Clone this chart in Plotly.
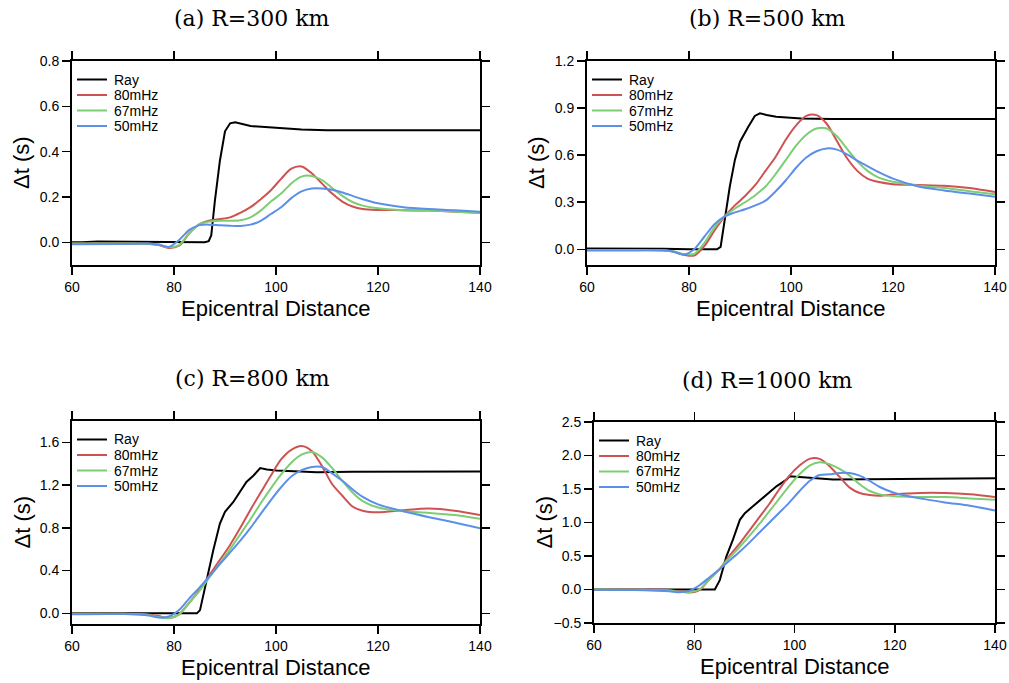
import plotly.graph_objects as go

# common distance grid for the finite-frequency curves
dist = [60, 70, 75, 77, 79, 81, 83, 85, 87, 89, 91, 93, 95, 97, 99, 101, 103,
        105, 107, 109, 111, 113, 115, 117, 120, 125, 130, 135, 140]

panel_titles = ["(a) R=300 km", "(b) R=500 km", "(c) R=800 km", "(d) R=1000 km"]
series_names = ["Ray", "80mHz", "67mHz", "50mHz"]

# (a) R=300 km
ray_a_x = [60, 62, 65, 70, 75, 80, 86, 86.8, 87.3, 88, 89, 90, 91, 92, 93, 95, 100, 105, 110, 120, 130, 140]
ray_a_y = [0, 0, 0.004, 0.003, 0, 0, 0, 0.005, 0.03, 0.18, 0.36, 0.49, 0.525, 0.53, 0.525, 0.513, 0.505,
           0.498, 0.495, 0.496, 0.496, 0.495]
f80_a = [-0.005, -0.005, -0.007, -0.012, -0.025, -0.015, 0.04, 0.08, 0.097, 0.103, 0.11, 0.13, 0.155, 0.19,
         0.23, 0.28, 0.325, 0.335, 0.305, 0.26, 0.215, 0.18, 0.158, 0.147, 0.143, 0.142, 0.14, 0.135, 0.13]
f67_a = [-0.005, -0.005, -0.006, -0.01, -0.022, -0.012, 0.04, 0.08, 0.092, 0.095, 0.095, 0.097, 0.11, 0.14,
         0.18, 0.215, 0.26, 0.29, 0.293, 0.275, 0.24, 0.205, 0.178, 0.162, 0.15, 0.142, 0.14, 0.135, 0.13]
f50_a = [-0.008, -0.007, -0.005, -0.01, -0.02, 0.01, 0.055, 0.076, 0.078, 0.075, 0.073, 0.072, 0.078, 0.095,
         0.125, 0.155, 0.195, 0.225, 0.238, 0.238, 0.232, 0.22, 0.205, 0.19, 0.172, 0.155, 0.147, 0.142, 0.135]

# (b) R=500 km
ray_b_x = [60, 65, 70, 75, 80, 85.5, 86.2, 87, 88, 89, 90, 91.6, 92.9, 93.9, 95.2, 97.1, 99.8, 102, 108, 120, 130, 140]
ray_b_y = [0.005, 0.005, 0.005, 0.003, 0, 0, 0.015, 0.2, 0.4, 0.57, 0.686, 0.78, 0.85, 0.867, 0.856, 0.845,
           0.839, 0.833, 0.83, 0.83, 0.83, 0.83]
f80_b = [-0.005, -0.005, -0.008, -0.015, -0.035, -0.04, 0.02, 0.12, 0.21, 0.28, 0.34, 0.41, 0.5, 0.59, 0.7,
         0.79, 0.85, 0.855, 0.8, 0.69, 0.58, 0.5, 0.45, 0.43, 0.415, 0.41, 0.405, 0.39, 0.365]
f67_b = [-0.005, -0.005, -0.007, -0.013, -0.03, -0.03, 0.04, 0.14, 0.21, 0.26, 0.3, 0.345, 0.4, 0.48, 0.57,
         0.66, 0.73, 0.77, 0.77, 0.72, 0.64, 0.56, 0.5, 0.46, 0.43, 0.405, 0.39, 0.37, 0.35]
f50_b = [-0.008, -0.007, -0.006, -0.015, -0.035, 0.0, 0.08, 0.16, 0.21, 0.235, 0.255, 0.28, 0.31, 0.37, 0.44,
         0.52, 0.585, 0.625, 0.643, 0.635, 0.605, 0.565, 0.53, 0.495, 0.45, 0.4, 0.375, 0.355, 0.335]

# (c) R=800 km
ray_c_x = [60, 70, 80, 84.5, 85.1, 86.4, 87.7, 89, 90, 91.6, 94.2, 95.6, 96.9, 98.2, 100.1, 104.7, 108, 115, 125, 140]
ray_c_y = [0, 0, 0, 0, 0.03, 0.32, 0.59, 0.84, 0.95, 1.04, 1.23, 1.29, 1.36, 1.346, 1.337, 1.328, 1.32,
           1.325, 1.328, 1.328]
f80_c = [-0.005, -0.005, -0.01, -0.025, -0.045, -0.01, 0.1, 0.22, 0.36, 0.5, 0.64, 0.8, 0.97, 1.13, 1.29,
         1.44, 1.53, 1.565, 1.52, 1.38, 1.21, 1.1, 1.0, 0.96, 0.945, 0.965, 0.98, 0.96, 0.92]
f67_c = [-0.005, -0.005, -0.015, -0.035, -0.045, -0.01, 0.1, 0.21, 0.34, 0.47, 0.6, 0.74, 0.88, 1.03, 1.17,
         1.3, 1.41, 1.485, 1.51, 1.46, 1.36, 1.24, 1.13, 1.05, 0.99, 0.955, 0.94, 0.92, 0.885]
f50_c = [-0.008, -0.007, -0.02, -0.04, -0.03, 0.03, 0.14, 0.24, 0.35, 0.46, 0.57, 0.68, 0.8, 0.93, 1.06,
         1.18, 1.28, 1.34, 1.37, 1.37, 1.31, 1.24, 1.16, 1.09, 1.02, 0.955, 0.9, 0.85, 0.795]

# (d) R=1000 km
ray_d_x = [60, 70, 80, 84.1, 85.1, 86.4, 87.7, 89.1, 90.1, 91.7, 94.4, 96.4, 98.4, 99, 101, 104.3, 107.7, 121, 140]
ray_d_y = [0, 0, 0, 0, 0.14, 0.49, 0.74, 1.04, 1.14, 1.24, 1.41, 1.54, 1.64, 1.69, 1.68, 1.66, 1.64, 1.65, 1.66]
f80_d = [0, -0.005, -0.01, -0.03, -0.045, -0.01, 0.15, 0.3, 0.5, 0.68, 0.88, 1.08, 1.28, 1.5, 1.7, 1.85,
         1.95, 1.95, 1.84, 1.68, 1.52, 1.44, 1.41, 1.4, 1.42, 1.44, 1.44, 1.42, 1.38]
f67_d = [0, -0.005, -0.015, -0.035, -0.04, 0.0, 0.15, 0.3, 0.47, 0.63, 0.8, 0.98, 1.17, 1.36, 1.55, 1.72,
         1.85, 1.9, 1.87, 1.8, 1.7, 1.57, 1.47, 1.42, 1.39, 1.38, 1.38, 1.36, 1.34]
f50_d = [-0.005, -0.01, -0.025, -0.04, -0.02, 0.06, 0.18, 0.3, 0.43, 0.56, 0.7, 0.85, 1.0, 1.15, 1.3, 1.47,
         1.62, 1.71, 1.72, 1.74, 1.74, 1.7, 1.62, 1.53, 1.44, 1.36, 1.3, 1.25, 1.18]

y_ranges = [[-0.1, 0.8], [-0.1, 1.2], [-0.1, 1.8], [-0.5, 2.5]]
y_dticks = [0.2, 0.3, 0.4, 0.5]

colors = ["black", "#cf5252", "#7ccd74", "#5b8fea"]

W, H = 1009, 683
# plot boxes in pixels: left, right, top, bottom
boxes = [(72, 480, 61, 265), (587, 995, 61, 265), (72, 480, 421, 624), (594, 995, 422, 623)]
title_centers = [(252, 18), (767, 18), (252, 378), (767, 380)]

rays = [(ray_a_x, ray_a_y), (ray_b_x, ray_b_y), (ray_c_x, ray_c_y), (ray_d_x, ray_d_y)]
freqs = [(f80_a, f67_a, f50_a), (f80_b, f67_b, f50_b), (f80_c, f67_c, f50_c), (f80_d, f67_d, f50_d)]

fig = go.Figure()
layout = dict(template="none", width=W, height=H, margin=dict(l=0, r=0, t=0, b=0, autoexpand=False),
              paper_bgcolor="white", plot_bgcolor="white", showlegend=False, hovermode=False,
              font=dict(family="Liberation Sans, Arial, sans-serif", color="black"))
annotations = []
shapes = []

for i in range(4):
    k = "" if i == 0 else str(i + 1)
    l, r, t, b = boxes[i]
    fig.add_trace(go.Scatter(x=rays[i][0], y=rays[i][1], mode="lines", name=series_names[0],
                             line=dict(color=colors[0], width=2), xaxis="x" + k, yaxis="y" + k))
    for j in range(3):
        fig.add_trace(go.Scatter(x=dist, y=freqs[i][j], mode="lines", name=series_names[j + 1],
                                 line=dict(color=colors[j + 1], width=2, shape="spline", smoothing=0.8),
                                 xaxis="x" + k, yaxis="y" + k))
    axis_common = dict(showline=True, linecolor="black", linewidth=2, mirror="ticks", ticks="outside",
                       ticklen=8, tickwidth=1.5, tickcolor="black", showgrid=False, zeroline=False,
                       automargin=False, tickfont=dict(size=14, color="black"))
    layout["xaxis" + k] = dict(domain=[l / W, r / W], anchor="y" + k, range=[60, 140],
                               tickvals=[60, 80, 100, 120, 140], **axis_common)
    layout["yaxis" + k] = dict(domain=[1 - b / H, 1 - t / H], anchor="x" + k, range=y_ranges[i],
                               dtick=y_dticks[i], tick0=0, tickformat=".1f", **axis_common)

    # legend drawn in the top-left corner of each panel
    for j, name in enumerate(series_names):
        ry = t + 18.5 + 15.5 * j
        shapes.append(dict(type="line", xref="paper", yref="paper", x0=(l + 5) / W, x1=(l + 35) / W,
                           y0=1 - ry / H, y1=1 - ry / H, line=dict(color=colors[j], width=2)))
        annotations.append(dict(text=name, x=(l + 40) / W, y=1 - ry / H, xref="paper", yref="paper",
                                showarrow=False, xanchor="left", yanchor="middle",
                                font=dict(size=14, color="black")))

    cx, cy = title_centers[i]
    annotations.append(dict(text=panel_titles[i], x=cx / W, y=1 - cy / H, xref="paper", yref="paper",
                            showarrow=False, xanchor="center", yanchor="middle",
                            font=dict(family="DejaVu Serif, serif", size=22, color="black")))
    annotations.append(dict(text="Epicentral Distance", x=(l + r) / 2 / W, y=1 - (b + 43) / H,
                            xref="paper", yref="paper", showarrow=False, xanchor="center",
                            yanchor="middle", font=dict(size=22, color="black")))
    annotations.append(dict(text="Δt (s)", x=(l - 50) / W, y=1 - (t + b) / 2 / H, xref="paper",
                            yref="paper", showarrow=False, textangle=-90, xanchor="center",
                            yanchor="middle", font=dict(size=22, color="black")))

layout["annotations"] = annotations
layout["shapes"] = shapes
fig.update_layout(**layout)
# remove the default page margin so the figure fills the window exactly
fig.write_html("out.html", config={"displayModeBar": False, "staticPlot": True},
               post_script="document.body.style.margin='0';document.body.style.overflow='hidden';")
